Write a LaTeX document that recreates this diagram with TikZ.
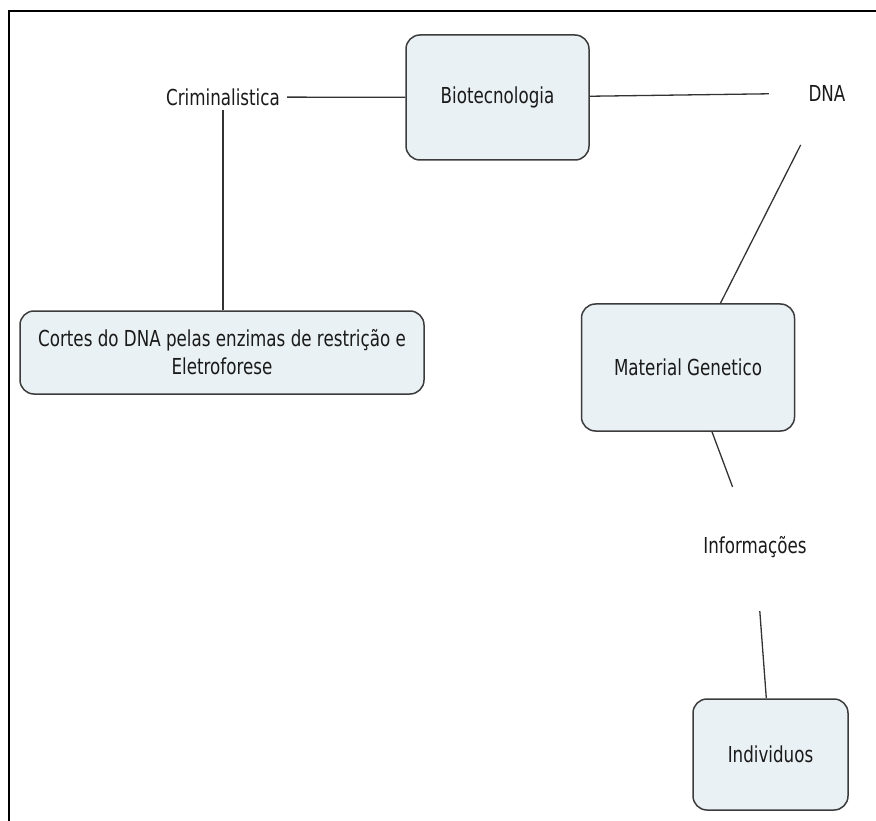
\documentclass[tikz,border=0pt]{standalone}
\usepackage{fontspec}
\setmainfont{DejaVu Sans}[FakeStretch=0.76]
\definecolor{boxfill}{HTML}{EAF1F4}
\definecolor{boxline}{HTML}{3C3C3C}
\definecolor{linkc}{HTML}{333333}
\definecolor{ink}{HTML}{1A1A1A}
\newcommand\mapfont{\fontsize{22}{28}\selectfont}
\begin{document}
\begin{tikzpicture}[x=1pt,y=-1pt,
  concept/.style={draw=boxline, fill=boxfill, rounded corners=14pt, line width=1.5pt,
    inner sep=0pt, align=center, font=\mapfont, text=ink},
  phrase/.style={inner sep=0pt, font=\mapfont, text=ink},
  link/.style={draw=linkc, line width=1.3pt}]

% page and frame
\useasboundingbox (0,0) rectangle (876,821);
\fill[white] (0,0) rectangle (876,821);
\draw[line width=1.8pt] (876,11) -- (9,11) -- (9,821);

% concepts
\node[concept, minimum width=183pt, minimum height=125pt] (bio) at (497.5,97.5) {Biotecnologia};
\node[concept, minimum width=404pt, minimum height=83pt] (cortes) at (222,352.5)
  {Cortes do DNA pelas enzimas de restrição e\\Eletroforese};
\node[concept, minimum width=213pt, minimum height=127pt] (mat) at (688,367.5) {Material Genetico};
\node[concept, minimum width=155pt, minimum height=111pt] (ind) at (770.5,754.5) {Individuos};

% linking phrases
\node[phrase, minimum width=128pt, minimum height=26pt] (crim) at (223,97) {Criminalistica};
\node[phrase, circle, minimum size=116pt] (dna) at (827,93) {DNA};
\node[phrase, circle, minimum size=128pt] (info) at (755,547) {Informações};

% connectors
\draw[link] (crim) -- (bio);
\draw[link] (bio) -- (dna);
\draw[link] (crim.south) -- (crim.south |- cortes.north);
\draw[link] (dna) -- (mat);
\draw[link] (mat) -- (info);
\draw[link] (info) -- (ind);
\end{tikzpicture}
\end{document}
